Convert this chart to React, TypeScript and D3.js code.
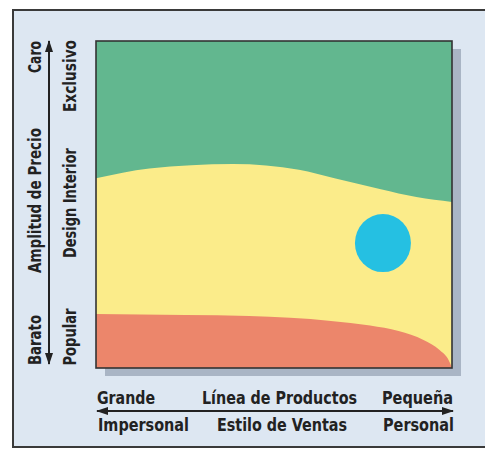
import React from "react";
import * as d3 from "d3";

// Boundary between "Exclusivo" (green) and "Design Interior" (yellow)
const upperX = [0, 0.15, 0.385, 0.57, 0.67, 0.8, 0.9, 1];
const upperY = [58, 61, 62.4, 60.6, 58, 54.7, 52.3, 50.8];
// Boundary between "Design Interior" (yellow) and "Popular" (red)
const lowerX = [0, 0.25, 0.43, 0.66, 0.77, 0.85, 0.92, 0.965, 0.99, 1];
const lowerY = [16.5, 16.2, 15.9, 14.4, 13.0, 11.3, 8.6, 5.5, 2.5, 0];
// Store position (blue dot)
const dotX = [0.806];
const dotY = [38.2];

const leftOuterLabels = ["Barato", "Amplitud de Precio", "Caro"];
const leftInnerLabels = ["Popular", "Design Interior", "Exclusivo"];
const bottomTopLabels = ["Grande", "Línea de Productos", "Pequeña"];
const bottomBottomLabels = ["Impersonal", "Estilo de Ventas", "Personal"];

const FONT = "'Liberation Sans Narrow', 'DejaVu Sans Condensed', 'Arial Narrow', sans-serif";
const TEXT = "#222222";

export default function App() {
  const W = 485, H = 450;
  const L = 96, R = 452, T = 41, B = 368;
  const x = d3.scaleLinear().domain([0, 1]).range([L, R]);
  const y = d3.scaleLinear().domain([0, 100]).range([B, T]);

  const upperPts = upperX.map((v, i) => [v, upperY[i]] as [number, number]);
  const lowerPts = lowerX.map((v, i) => [v, lowerY[i]] as [number, number]);

  const area = d3
    .area<[number, number]>()
    .x((d) => x(d[0]))
    .y0(() => y(0))
    .y1((d) => y(d[1]))
    .curve(d3.curveMonotoneX);

  // vertical label specs: [text, centerY, length]
  const outerV: [string, number, number][] = [
    [leftOuterLabels[0], 340, 50],
    [leftOuterLabels[1], 200.5, 145],
    [leftOuterLabels[2], 57, 32],
  ];
  const innerV: [string, number, number][] = [
    [leftInnerLabels[0], 337, 57],
    [leftInnerLabels[1], 203, 110],
    [leftInnerLabels[2], 76, 72],
  ];
  const topH: [string, number, number][] = [
    [bottomTopLabels[0], 97, 58],
    [bottomTopLabels[1], 202, 155],
    [bottomTopLabels[2], 382, 71],
  ];
  const botH: [string, number, number][] = [
    [bottomBottomLabels[0], 98, 91],
    [bottomBottomLabels[1], 217, 130],
    [bottomBottomLabels[2], 383, 71],
  ];

  return (
    <svg
      width={W}
      height={H}
      style={{ position: "absolute", left: 0, top: 0, display: "block" }}
      xmlns="http://www.w3.org/2000/svg"
    >
      <defs>
        <marker id="ah" viewBox="0 0 12 8" refX="11" refY="4" markerWidth="12" markerHeight="8" markerUnits="userSpaceOnUse" orient="auto-start-reverse">
          <path d="M0,0 L12,4 L0,8 Z" fill={TEXT} />
        </marker>
      </defs>
      <rect x={0} y={0} width={W} height={H} fill="#ffffff" />
      <rect x={13} y={10} width={490} height={437} fill="#dde7f2" stroke="#3a3a3a" strokeWidth={2} />

      {/* shadow */}
      <rect x={L + 9} y={T + 8} width={R - L} height={B - T} fill="#a9b5c5" />

      {/* bands */}
      <rect x={L} y={T} width={R - L} height={B - T} fill="#62b78f" />
      <path d={area(upperPts) || ""} fill="#fbec8a" />
      <path d={area(lowerPts) || ""} fill="#ec866b" />
      <rect x={L} y={T} width={R - L} height={B - T} fill="none" stroke="#333" strokeWidth={1.6} />

      {dotX.map((v, i) => (
        <ellipse key={i} cx={x(v)} cy={y(dotY[i])} rx={28} ry={29} fill="#25c0e2" />
      ))}

      {/* vertical arrow */}
      <line x1={49} y1={364} x2={49} y2={41} stroke={TEXT} strokeWidth={2} markerEnd="url(#ah)" markerStart="url(#ah)" />
      {/* horizontal arrow */}
      <line x1={97} y1={411} x2={453} y2={411} stroke={TEXT} strokeWidth={2} markerEnd="url(#ah)" markerStart="url(#ah)" />

      <g fontFamily={FONT} fontWeight="bold" fontSize={17} fill={TEXT}>
        {outerV.map(([t, cy, len]) => (
          <text key={t} transform={`translate(41,${cy}) rotate(-90)`} textAnchor="middle" textLength={len} lengthAdjust="spacingAndGlyphs">
            {t}
          </text>
        ))}
        {innerV.map(([t, cy, len]) => (
          <text key={t} transform={`translate(76,${cy}) rotate(-90)`} textAnchor="middle" textLength={len} lengthAdjust="spacingAndGlyphs">
            {t}
          </text>
        ))}
        {topH.map(([t, sx, len]) => (
          <text key={t} x={sx} y={404} textLength={len} lengthAdjust="spacingAndGlyphs">
            {t}
          </text>
        ))}
        {botH.map(([t, sx, len]) => (
          <text key={t} x={sx} y={431} textLength={len} lengthAdjust="spacingAndGlyphs">
            {t}
          </text>
        ))}
      </g>
    </svg>
  );
}
